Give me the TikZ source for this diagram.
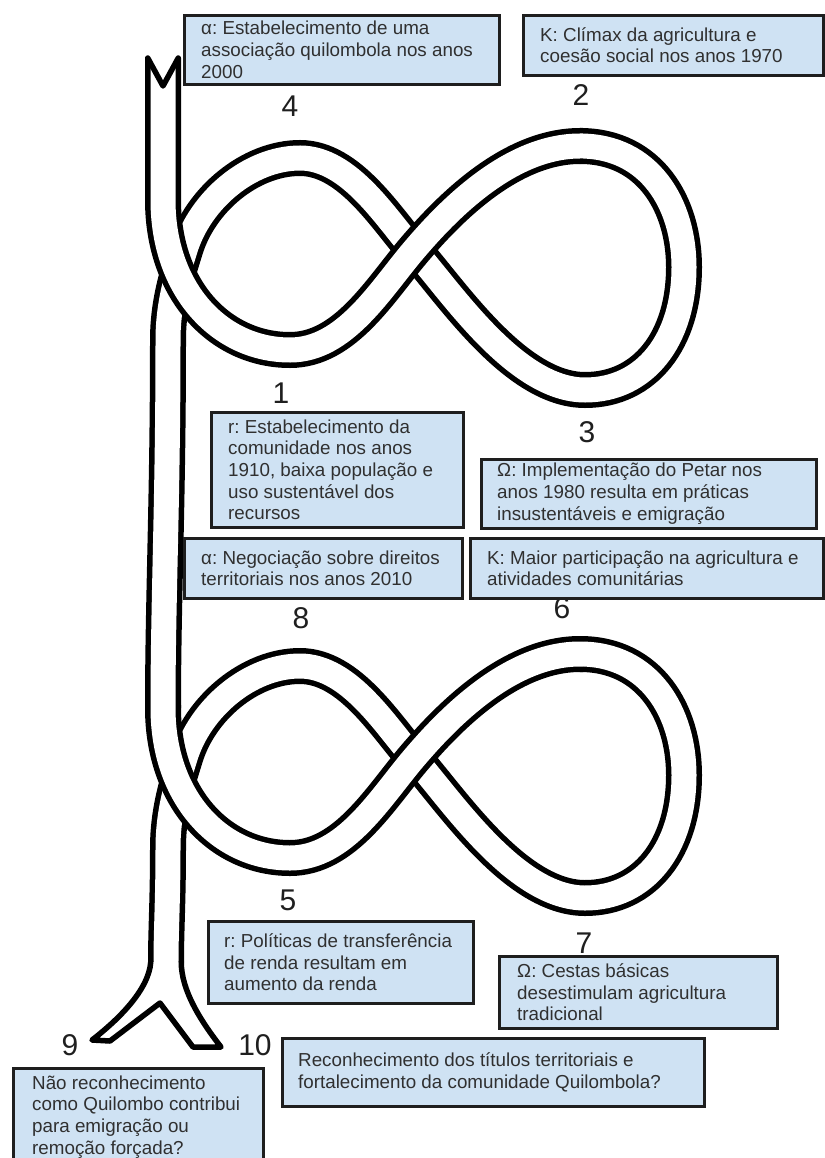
\documentclass[tikz,border=0pt]{standalone}
\usepackage{fontspec}
\setmainfont{Liberation Sans}
\frenchspacing
\definecolor{boxfill}{HTML}{CFE2F3}
\definecolor{boxline}{HTML}{1E1E1E}
\definecolor{txtc}{HTML}{303030}
\tikzset{
  ribbon/.style={draw=black, line width=5.5pt, double=white, double distance=25pt, line cap=butt},
  forkline/.style={draw=black, line width=5.5pt, line join=round, line cap=round},
  seamfix/.style={fill=white, draw=none},
  infobox/.style={draw=boxline, fill=boxfill, line width=2.6pt, rectangle, inner sep=0pt, anchor=north west},
  infotext/.style={text=txtc, align=left, inner sep=0pt, anchor=west, font=\fontsize{18.8}{21.7}\selectfont},
  stagenum/.style={text=black!88, font=\fontsize{30}{30}\selectfont, inner sep=0pt},
}
\begin{document}
\begin{tikzpicture}[x=1pt,y=-1pt]
\useasboundingbox (0,0) rectangle (824,1158);
\fill[white] (0,0) rectangle (824,1158);

% ---- key points of the ribbon (upper figure eight)
\coordinate (ftop) at (163,58);
\coordinate (ntop) at (163,86);
\coordinate (sa) at (163,200);
\coordinate (lb) at (290,350);
\coordinate (xc) at (414,250);
\coordinate (rt) at (580,146);
\coordinate (rr) at (684,267);
\coordinate (rb) at (585,390);
\coordinate (lt) at (300,158);
\coordinate (ll) at (185,250);
\coordinate (sj) at (168,340);
% ---- lower figure eight
\coordinate (sb) at (163,708);
\coordinate (lb2) at (290,858);
\coordinate (xc2) at (414,758);
\coordinate (rt2) at (580,654);
\coordinate (rr2) at (684,775);
\coordinate (rb2) at (585,898);
\coordinate (lt2) at (300,666);
\coordinate (ll2) at (185,758);
\coordinate (sj2) at (168,848);
\coordinate (fbot) at (166,962);
% ---- bottom fork
\coordinate (fl) at (92,1040);
\coordinate (fli) at (110,1041);
\coordinate (nbot) at (160,1003);
\coordinate (fri) at (193,1047);
\coordinate (fr) at (221,1047);

% upper figure: under strand
\draw[ribbon] (rt) .. controls +(70,0) and +(0,-62) .. (rr)
  .. controls +(0,73) and +(60,0) .. (rb)
  .. controls +(-70,0) and +(36,40) .. (xc)
  .. controls +(-27,-30) and +(50,0) .. (lt)
  .. controls +(-50,0) and +(15,-50) .. (ll)
  .. controls +(-6,20) and +(0,-40) .. (sj)
  .. controls +(0,160) and +(0,-108) .. (sb);
% upper figure: over strand
\draw[ribbon] (ftop) -- (sa) .. controls +(0,90) and +(-70,0) .. (lb)
  .. controls +(55,0) and +(-34,40) .. (xc)
  .. controls +(34,-40) and +(-70,0) .. (rt) -- ++(3,0);

% lower figure: under strand
\draw[ribbon] (rt2) .. controls +(70,0) and +(0,-62) .. (rr2)
  .. controls +(0,73) and +(60,0) .. (rb2)
  .. controls +(-70,0) and +(36,40) .. (xc2)
  .. controls +(-27,-30) and +(50,0) .. (lt2)
  .. controls +(-50,0) and +(15,-50) .. (ll2)
  .. controls +(-6,20) and +(0,-40) .. (sj2)
  .. controls +(0,52) and +(0,-32) .. (fbot);
% lower figure: over strand
\draw[ribbon] ([yshift=3pt]sb) -- (sb) .. controls +(0,90) and +(-70,0) .. (lb2)
  .. controls +(55,0) and +(-34,40) .. (xc2)
  .. controls +(34,-40) and +(-70,0) .. (rt2) -- ++(3,0);

% clean the joints and open ends of the ribbon
\fill[seamfix] ([xshift=-3pt,yshift=12pt]rt) rectangle ([xshift=7pt,yshift=-12pt]rt);
\fill[seamfix] ([xshift=-3pt,yshift=12pt]rt2) rectangle ([xshift=7pt,yshift=-12pt]rt2);
\fill[seamfix] ([xshift=-12pt,yshift=5pt]sb) rectangle ([xshift=12pt,yshift=-3pt]sb);
\fill[seamfix] ([xshift=-12pt,yshift=2pt]ftop) rectangle ([xshift=12pt,yshift=-2pt]ftop);
\fill[seamfix] ([xshift=-12pt,yshift=2pt]fbot) rectangle ([xshift=12pt,yshift=-2pt]fbot);

% forks
\draw[forkline] ([xshift=-15.25pt]ftop) -- (ntop) -- ([xshift=15.25pt]ftop);
\draw[forkline] ([xshift=-15.25pt]fbot) .. controls +(-2,28) and +(26,-20) .. (fl)
  -- (fli) -- (nbot) -- (fri) -- (fr)
  .. controls +(-21,-27) and +(0,28) .. ([xshift=15.25pt]fbot);

% stage numbers
\node[stagenum] (n4) at (290,106) {4};
\node[stagenum] (n2) at (581,95) {2};
\node[stagenum] (n1) at (281,393) {1};
\node[stagenum] (n3) at (587,432) {3};
\node[stagenum] (n8) at (301,618) {8};
\node[stagenum] (n6) at (562,608) {6};
\node[stagenum] (n5) at (288,900) {5};
\node[stagenum] (n7) at (584,943) {7};
\node[stagenum] (n9) at (70,1045) {9};
\node[stagenum] (n10) at (255,1045) {10};

% boxes
\node[infobox, minimum width=315pt, minimum height=69pt] (bA1) at (183,14) {};
\node[infotext] (tA1) at ([xshift=18pt]bA1.west) {α: Estabelecimento de uma\\associação quilombola nos anos\\2000};

\node[infobox, minimum width=300pt, minimum height=60pt] (bK1) at (522,14) {};
\node[infotext] (tK1) at ([xshift=18pt]bK1.west) {K: Clímax da agricultura e\\coesão social nos anos 1970};

\node[infobox, minimum width=252pt, minimum height=115pt] (bR1) at (210,411) {};
\node[infotext] (tR1) at ([xshift=18pt]bR1.west) {r: Estabelecimento da\\comunidade nos anos\\1910, baixa população e\\uso sustentável dos\\recursos};

\node[infobox, minimum width=335pt, minimum height=69pt] (bO1) at (480,458) {};
\node[infotext] (tO1) at ([xshift=17pt]bO1.west) {Ω: Implementação do Petar nos\\anos 1980 resulta em práticas\\insustentáveis e emigração};

\node[infobox, minimum width=278pt, minimum height=60pt] (bA2) at (183,537) {};
\node[infotext] (tA2) at ([xshift=18pt]bA2.west) {α: Negociação sobre direitos\\territoriais nos anos 2010};

\node[infobox, minimum width=353pt, minimum height=60pt] (bK2) at (469,537) {};
\node[infotext] (tK2) at ([xshift=18pt]bK2.west) {K: Maior participação na agricultura e\\atividades comunitárias};

\node[infobox, minimum width=265pt, minimum height=82pt] (bR2) at (207,920) {};
\node[infotext] (tR2) at ([xshift=17pt]bR2.west) {r: Políticas de transferência\\de renda resultam em\\aumento da renda};

\node[infobox, minimum width=278pt, minimum height=72pt] (bO2) at (498,955) {};
\node[infotext] (tO2) at ([xshift=19pt]bO2.west) {Ω: Cestas básicas\\desestimulam agricultura\\tradicional};

\node[infobox, minimum width=422pt, minimum height=68pt] (bB10) at (281,1037) {};
\node[infotext] (tB10) at ([xshift=17pt]bB10.west) {Reconhecimento dos títulos territoriais e\\fortalecimento da comunidade Quilombola?};

\node[infobox, minimum width=250pt, minimum height=97pt] (bB9) at (12,1067) {};
\node[infotext] (tB9) at ([xshift=20pt]bB9.west) {Não reconhecimento\\como Quilombo contribui\\para emigração ou\\remoção forçada?};
\end{tikzpicture}
\end{document}
